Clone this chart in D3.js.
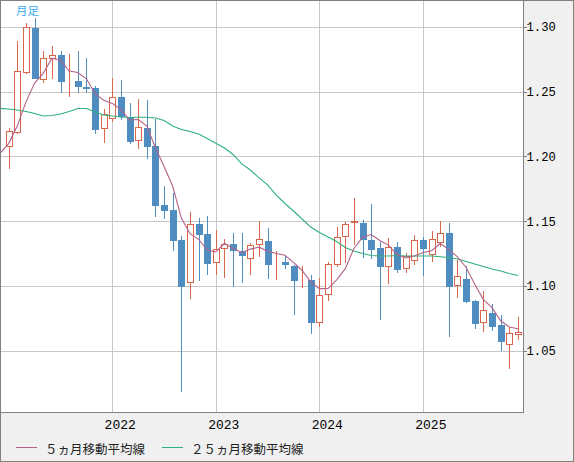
<!DOCTYPE html>
<html>
<head>
<meta charset="utf-8">
<script src="https://cdn.jsdelivr.net/npm/d3@7"></script>
<style>
  body { margin: 0; background: #fff; }
  svg { display: block; }
</style>
</head>
<body>
<div id="chart"></div>
<script>
// monthly candles, Jan 2021 .. Dec 2025
const months = [
  '2021-01','2021-02','2021-03','2021-04','2021-05','2021-06','2021-07','2021-08','2021-09','2021-10','2021-11','2021-12',
  '2022-01','2022-02','2022-03','2022-04','2022-05','2022-06','2022-07','2022-08','2022-09','2022-10','2022-11','2022-12',
  '2023-01','2023-02','2023-03','2023-04','2023-05','2023-06','2023-07','2023-08','2023-09','2023-10','2023-11','2023-12',
  '2024-01','2024-02','2024-03','2024-04','2024-05','2024-06','2024-07','2024-08','2024-09','2024-10','2024-11','2024-12',
  '2025-01','2025-02','2025-03','2025-04','2025-05','2025-06','2025-07','2025-08','2025-09','2025-10','2025-11','2025-12'
]
const open = [
  1.2074, 1.2182, 1.2640, 1.2990, 1.2591, 1.2753, 1.2782, 1.2571, 1.2581, 1.2532, 1.2527, 1.2208,
  1.2290, 1.2455, 1.2301, 1.2116, 1.2218, 1.2079, 1.1624, 1.1586, 1.1354, 1.1020, 1.1478, 1.1400,
  1.1174, 1.1282, 1.1323, 1.1267, 1.1205, 1.1313, 1.1346, 1.1172, 1.1184, 1.1154, 1.1045, 1.1046,
  1.0711, 1.0927, 1.1164, 1.1380, 1.1483, 1.1483, 1.1354, 1.1292, 1.1148, 1.1298, 1.1128, 1.1194,
  1.1354, 1.1237, 1.1333, 1.1408, 1.0997, 1.1053, 1.0883, 1.0711, 1.0791, 1.0698, 1.0542, 1.0619
]
const high = [
  1.2218, 1.2890, 1.3026, 1.3067, 1.2812, 1.2851, 1.2812, 1.2792, 1.2812, 1.2761, 1.2542, 1.2365,
  1.2604, 1.2589, 1.2409, 1.2442, 1.2434, 1.2285, 1.1771, 1.1714, 1.1385, 1.1570, 1.1524, 1.1539,
  1.1431, 1.1359, 1.1406, 1.1406, 1.1329, 1.1498, 1.1444, 1.1267, 1.1230, 1.1161, 1.1154, 1.1084,
  1.1061, 1.1184, 1.1457, 1.1491, 1.1678, 1.1505, 1.1632, 1.1339, 1.1370, 1.1339, 1.1252, 1.1393,
  1.1380, 1.1424, 1.1498, 1.1483, 1.1200, 1.1154, 1.0893, 1.0963, 1.0860, 1.0775, 1.0681, 1.0758
]
const low = [
  1.1904, 1.2175, 1.2633, 1.2595, 1.2568, 1.2599, 1.2491, 1.2460, 1.2491, 1.2491, 1.2172, 1.2105,
  1.2267, 1.2280, 1.2093, 1.2059, 1.1977, 1.1530, 1.1518, 1.1272, 1.0184, 1.0897, 1.1040, 1.1086,
  1.1086, 1.1063, 1.0989, 1.1020, 1.1082, 1.1225, 1.1055, 1.1046, 1.1128, 1.0775, 1.0986, 1.0629,
  1.0685, 1.0886, 1.1148, 1.1174, 1.1316, 1.1213, 1.1210, 1.0737, 1.1017, 1.1102, 1.1097, 1.1163,
  1.1076, 1.1185, 1.1298, 1.0608, 1.0909, 1.0870, 1.0667, 1.0647, 1.0652, 1.0500, 1.0361, 1.0583
]
const close = [
  1.2193, 1.2656, 1.2995, 1.2599, 1.2756, 1.2779, 1.2576, 1.2581, 1.2537, 1.2519, 1.2203, 1.2326,
  1.2455, 1.2301, 1.2113, 1.2224, 1.2074, 1.1617, 1.1580, 1.1349, 1.0994, 1.1475, 1.1395, 1.1171,
  1.1282, 1.1323, 1.1269, 1.1233, 1.1313, 1.1359, 1.1163, 1.1180, 1.1163, 1.1040, 1.1050, 1.0716,
  1.0927, 1.1169, 1.1375, 1.1478, 1.1498, 1.1354, 1.1277, 1.1148, 1.1298, 1.1123, 1.1231, 1.1352,
  1.1287, 1.1360, 1.1406, 1.0994, 1.1074, 1.0878, 1.0708, 1.0814, 1.0686, 1.0570, 1.0635, 1.0642
]
// moving averages start one month earlier (Dec 2020) at the left edge
const ma5 = [1.2023,
  1.2100, 1.2235, 1.2420, 1.2565, 1.2640, 1.2757, 1.2741, 1.2658, 1.2646, 1.2598, 1.2483, 1.2433,
  1.2408, 1.2361, 1.2280, 1.2284, 1.2233, 1.2066, 1.1922, 1.1769, 1.1523, 1.1403, 1.1359, 1.1277,
  1.1263, 1.1329, 1.1288, 1.1256, 1.1284, 1.1299, 1.1267, 1.1250, 1.1236, 1.1181, 1.1119, 1.1030,
  1.0979, 1.0980, 1.1047, 1.1133, 1.1289, 1.1375, 1.1396, 1.1351, 1.1315, 1.1240, 1.1215, 1.1230,
  1.1258, 1.1271, 1.1327, 1.1280, 1.1224, 1.1142, 1.1012, 1.0894, 1.0832, 1.0731, 1.0683, 1.0669
]
const ma25 = [1.2370,
  1.2365, 1.2357, 1.2346, 1.2330, 1.2311, 1.2315, 1.2326, 1.2346, 1.2369, 1.2369, 1.2342, 1.2319,
  1.2311, 1.2303, 1.2299, 1.2301, 1.2301, 1.2296, 1.2276, 1.2234, 1.2207, 1.2191, 1.2172, 1.2137,
  1.2100, 1.2064, 1.2014, 1.1941, 1.1894, 1.1833, 1.1779, 1.1701, 1.1636, 1.1578, 1.1516, 1.1454,
  1.1412, 1.1377, 1.1343, 1.1296, 1.1269, 1.1250, 1.1235, 1.1231, 1.1231, 1.1235, 1.1231, 1.1231,
  1.1231, 1.1231, 1.1225, 1.1219, 1.1208, 1.1188, 1.1169, 1.1150, 1.1130, 1.1115, 1.1096, 1.1080
]
const priceTicks = [1.05, 1.10, 1.15, 1.20, 1.25, 1.30]
const yearTicks = ['2022-01', '2023-01', '2024-01', '2025-01']
const legendItems = [
  { label: '５ヵ月移動平均線', key: 'ma5' },
  { label: '２５ヵ月移動平均線', key: 'ma25' }
]

const W = 574, H = 462
const plotRight = 523.5, plotBottom = 412.5
const upColor = '#d9664a', downColor = '#4f8dc0'
const lineColor = { ma5: '#b5618b', ma25: '#2fb17a' }
const axisFont = '"Liberation Mono", "DejaVu Sans Mono", monospace'
const jpFont = '"Noto Sans CJK JP", "Noto Sans", sans-serif'

const svg = d3.select('#chart').append('svg').attr('width', W).attr('height', H)

svg.append('rect').attr('width', W).attr('height', H).attr('fill', '#f0f0f0')
svg.append('rect').attr('x', 1).attr('y', 1)
  .attr('width', plotRight - 1).attr('height', plotBottom - 1).attr('fill', '#fff')

// index scale: -1 = Dec 2020 sits on the left edge
const x = d3.scaleLinear().domain([-1, 59]).range([0.1, 517.9])
const y = d3.scaleLinear().domain([1.05, 1.30]).range([350.7, 26.7])
const idx = (m) => months.indexOf(m)

// grid
const grid = svg.append('g').attr('shape-rendering', 'crispEdges').attr('stroke', '#c8c8c8')
grid.selectAll('.hg').data(priceTicks).enter().append('line')
  .attr('x1', 1).attr('x2', plotRight)
  .attr('y1', (d) => Math.round(y(d)) + 0.5).attr('y2', (d) => Math.round(y(d)) + 0.5)
grid.selectAll('.vg').data(yearTicks).enter().append('line')
  .attr('x1', (d) => Math.round(x(idx(d))) + 0.5).attr('x2', (d) => Math.round(x(idx(d))) + 0.5)
  .attr('y1', 1).attr('y2', plotBottom)

// candles
const candles = months.map((m, i) => ({ i, o: open[i], h: high[i], l: low[i], c: close[i] }))
const cg = svg.append('g').attr('shape-rendering', 'crispEdges')
const c = cg.selectAll('g').data(candles).enter().append('g')
c.append('line')
  .attr('x1', (d) => Math.round(x(d.i)) + 0.5).attr('x2', (d) => Math.round(x(d.i)) + 0.5)
  .attr('y1', (d) => y(d.h)).attr('y2', (d) => y(d.l))
  .attr('stroke', (d) => (d.c >= d.o ? upColor : downColor))
c.each(function (d) {
  const g = d3.select(this)
  const cx = Math.round(x(d.i))
  const top = Math.round(y(Math.max(d.o, d.c)))
  const bot = Math.round(y(Math.min(d.o, d.c)))
  if (d.c >= d.o) {
    g.append('rect').attr('x', cx - 2.5).attr('y', top + 0.5)
      .attr('width', 6).attr('height', Math.max(bot - top - 1, 0))
      .attr('fill', '#fff').attr('stroke', upColor).attr('stroke-width', 1)
  } else {
    g.append('rect').attr('x', cx - 3).attr('y', top)
      .attr('width', 7).attr('height', Math.max(bot - top, 1))
      .attr('fill', downColor)
  }
})

// moving averages
const line = (arr) => d3.line().x((d, i) => x(i - 1)).y((d) => y(d))(arr)
svg.append('path').attr('d', line(ma25)).attr('fill', 'none')
  .attr('stroke', lineColor.ma25).attr('stroke-width', 1.1)
svg.append('path').attr('d', line(ma5)).attr('fill', 'none')
  .attr('stroke', lineColor.ma5).attr('stroke-width', 1.1)

// frame
const frame = svg.append('g').attr('shape-rendering', 'crispEdges').attr('stroke', '#808080')
frame.append('line').attr('x1', plotRight).attr('x2', plotRight).attr('y1', 0).attr('y2', plotBottom)
frame.append('line').attr('x1', 0).attr('x2', plotRight).attr('y1', plotBottom).attr('y2', plotBottom)
frame.append('rect').attr('x', 0.5).attr('y', 0.5).attr('width', W - 1).attr('height', H - 1)
  .attr('fill', 'none')

// price axis
const yAxis = svg.append('g').attr('transform', `translate(${plotRight},0)`)
  .call(d3.axisRight(y).tickValues(priceTicks).tickFormat(d3.format('.2f')).tickSize(3).tickPadding(0))
yAxis.select('.domain').remove()
yAxis.selectAll('.tick line').attr('stroke', '#808080').attr('shape-rendering', 'crispEdges')
yAxis.selectAll('text').attr('font-family', axisFont).attr('font-size', 12.2).attr('fill', '#000')

// year axis
const xAxis = svg.append('g').attr('transform', `translate(0,${plotBottom})`)
  .call(d3.axisBottom(x).tickValues(yearTicks.map(idx)).tickFormat((d) => months[d].slice(0, 4))
    .tickSize(0).tickPadding(7))
xAxis.select('.domain').remove()
xAxis.selectAll('text').attr('dx', 7.4)
  .attr('font-family', axisFont).attr('font-size', 13).attr('fill', '#000')

// title tag
svg.append('text').attr('x', 16).attr('y', 10).attr('dominant-baseline', 'central')
  .attr('font-family', jpFont).attr('font-size', 11.5).attr('fill', '#38a9ee').text('月足')

// legend
const legendX = [16, 162]
const lg = svg.selectAll('.legend').data(legendItems).enter().append('g')
  .attr('transform', (d, i) => `translate(${legendX[i]},448)`)
lg.append('line').attr('x1', 0).attr('x2', 21).attr('y1', -0.5).attr('y2', -0.5)
  .attr('stroke', (d) => lineColor[d.key]).attr('shape-rendering', 'crispEdges')
lg.append('text').attr('x', 29).attr('y', 0).attr('dominant-baseline', 'central')
  .attr('font-family', jpFont).attr('font-size', 12.5).attr('fill', '#222')
  .text((d) => d.label)
</script>
</body>
</html>
